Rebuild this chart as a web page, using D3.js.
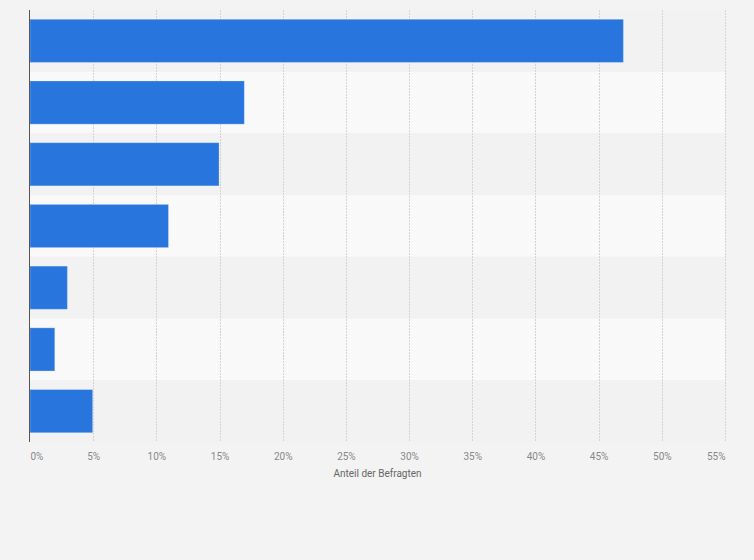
<!DOCTYPE html>
<html><head><meta charset="utf-8">
<script src="https://cdn.jsdelivr.net/npm/d3@7"></script>
<style>html,body{margin:0;padding:0;background:#f3f3f3;}svg{display:block;}</style>
</head><body>
<div id="chart"></div>
<script>
const categories = ["A","B","C","D","E","F","G"];
const values = [47, 17, 15, 11, 3, 2, 5];
const ticks = [0,5,10,15,20,25,30,35,40,45,50,55];
const axisTitle = "Anteil der Befragten";

const W = 754, H = 560;
const m = {left: 30, right: 29, top: 10, bottom: 118};
const svg = d3.select("#chart").append("svg").attr("width", W).attr("height", H);
svg.append("rect").attr("width", W).attr("height", H).attr("fill", "#f3f3f3");

const x = d3.scaleLinear().domain([0, 55]).range([m.left, W - m.right]);
const y = d3.scaleBand().domain(categories).range([m.top, H - m.bottom]).padding(0);

// bands
svg.append("g").selectAll("rect").data(categories).join("rect")
  .attr("x", m.left).attr("width", W - m.right - m.left)
  .attr("y", d => y(d)).attr("height", y.bandwidth())
  .attr("fill", (d, i) => i % 2 === 0 ? "#f2f2f2" : "#f9f9f9");

// grid
svg.append("g").selectAll("line").data(ticks.filter(t => t > 0)).join("line")
  .attr("x1", d => Math.round(x(d)) + 0.5).attr("x2", d => Math.round(x(d)) + 0.5)
  .attr("y1", m.top).attr("y2", H - m.bottom)
  .attr("stroke", "#d4d4d4").attr("stroke-width", 1).attr("stroke-dasharray", "2,1");

// bars
const bh = y.bandwidth() * 0.7;
svg.append("g").selectAll("rect").data(categories).join("rect")
  .attr("x", x(0)).attr("y", d => y(d) + (y.bandwidth() - bh) / 2)
  .attr("width", (d, i) => x(values[i]) - x(0) - 0.5).attr("height", bh)
  .attr("fill", "#2876dd").attr("stroke", "rgba(255,255,255,0.25)").attr("stroke-width", 1);

// axis line
svg.append("line").attr("x1", m.left - 0.5).attr("x2", m.left - 0.5)
  .attr("y1", m.top).attr("y2", H - m.bottom).attr("stroke", "#555").attr("stroke-width", 1);

// tick labels
const xAxis = d3.axisBottom(x).tickValues(ticks).tickSize(0).tickFormat(d => d + "%");
const gx = svg.append("g").attr("transform", `translate(0,${H - m.bottom + 8})`).call(xAxis);
gx.select(".domain").remove();
gx.selectAll("text").attr("fill", "#888").style("font-family", "Roboto, 'Open Sans', sans-serif").style("font-size", "10px")
  .attr("text-anchor", (d, i) => i === 0 ? "start" : (i === ticks.length - 1 ? "end" : "middle"));

svg.append("text").attr("x", (m.left + W - m.right) / 2).attr("y", 477)
  .attr("text-anchor", "middle").attr("fill", "#666")
  .style("font-family", "Roboto, 'Open Sans', sans-serif").style("font-size", "10px")
  .text(axisTitle);
</script>
</body></html>
